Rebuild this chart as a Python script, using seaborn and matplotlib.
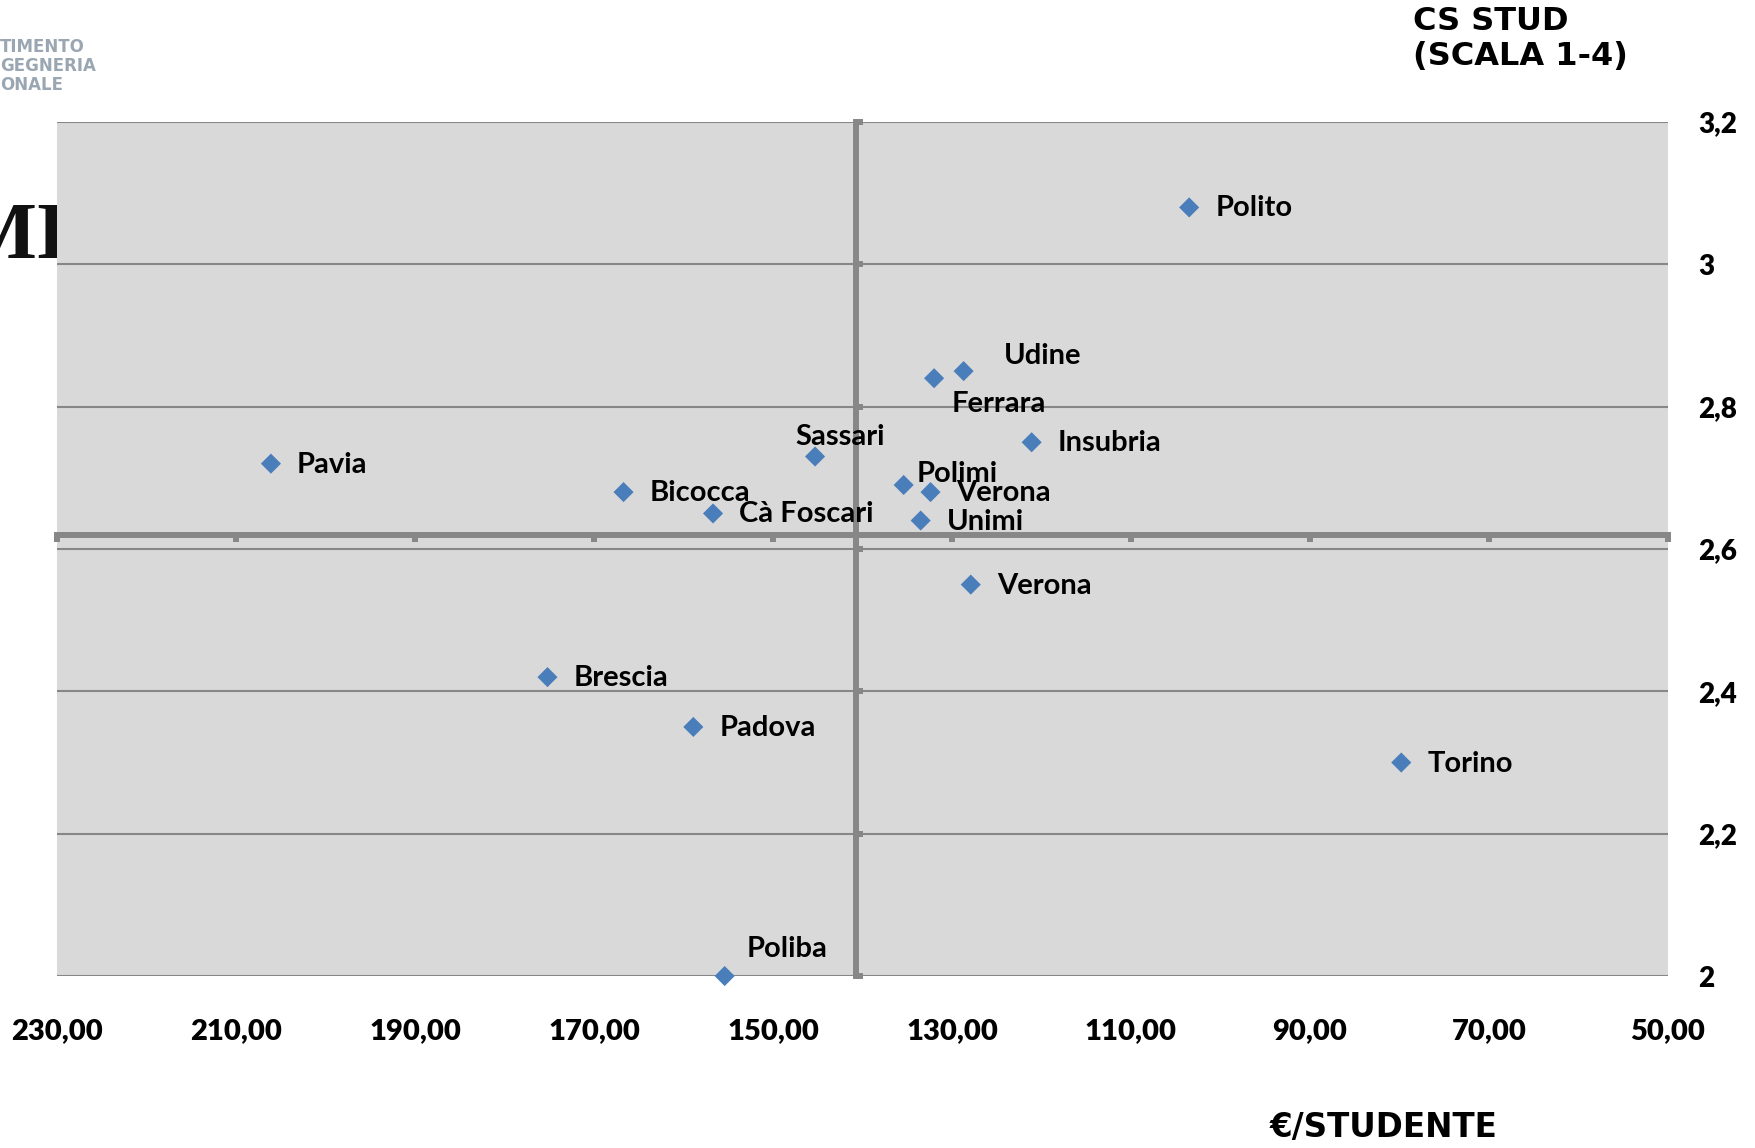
import matplotlib
matplotlib.use("Agg")
import matplotlib.pyplot as plt
import seaborn as sns
import pandas as pd

# data
atenei = ['Polito', 'Udine', 'Ferrara', 'Insubria', 'Sassari', 'Pavia', 'Bicocca',
          'Polimi', 'Verona', 'Cà Foscari', 'Unimi', 'Verona', 'Brescia', 'Padova',
          'Torino', 'Poliba']
euro_studente = [103.5, 128.7, 132.0, 121.1, 145.3, 206.1, 166.7,
                 135.4, 132.4, 156.7, 133.5, 127.9, 175.2, 158.9,
                 79.8, 155.4]
cs_stud = [3.08, 2.85, 2.84, 2.75, 2.73, 2.72, 2.68,
           2.69, 2.68, 2.65, 2.64, 2.55, 2.42, 2.35,
           2.30, 2.00]

x_ticks = [230, 210, 190, 170, 150, 130, 110, 90, 70, 50]
x_tick_labels = ['230,00', '210,00', '190,00', '170,00', '150,00',
                 '130,00', '110,00', '90,00', '70,00', '50,00']
y_ticks = [2.0, 2.2, 2.4, 2.6, 2.8, 3.0, 3.2]
y_tick_labels = ['2', '2,2', '2,4', '2,6', '2,8', '3', '3,2']

# where the two axes cross (Excel style)
cross_x = 140.7
cross_y = 2.62

# label placement (pixels from the marker), same order as atenei
label_offsets = [(26, -1), (40, 15), (18, -26), (26, -1), (-20, 20), (26, -1), (26, -1),
                 (13, 11), (26, -1), (26, -1), (26, -1), (26, -1), (26, -1), (26, -1),
                 (26, -1), (22, 27)]

df = pd.DataFrame({'ateneo': atenei, 'euro': euro_studente, 'cs': cs_stud})

plt.rcParams['font.family'] = ['Lato', 'DejaVu Sans']
plt.rcParams['font.weight'] = 'bold'

grid_col = '#878787'
fig = plt.figure(figsize=(17.55, 11.48), dpi=100)
ax = fig.add_axes([0.0325, 0.1498, 0.9179, 0.7439])
ax.set_facecolor('#d9d9d9')

sns.scatterplot(data=df, x='euro', y='cs', marker='D', s=105, color='#4a7ebb',
                edgecolor='none', ax=ax, zorder=4, clip_on=False)

ax.set_xlim(230, 50)
ax.set_ylim(2.0, 3.2)
ax.set_xticks(x_ticks)
ax.set_yticks(y_ticks)
ax.set_xlabel('')
ax.set_ylabel('')

for side in ['top', 'right']:
    ax.spines[side].set_visible(False)
ax.spines['left'].set_position(('data', cross_x))
ax.spines['bottom'].set_position(('data', cross_y))
for side in ['left', 'bottom']:
    ax.spines[side].set_color(grid_col)
    ax.spines[side].set_linewidth(4.3)
    ax.spines[side].set_zorder(3)
ax.tick_params(axis='x', direction='out', length=5, width=4.3, color=grid_col,
               labelbottom=False)
ax.tick_params(axis='y', direction='in', length=5, width=4.3, color=grid_col,
               labelleft=False)
ax.grid(axis='y', color=grid_col, linewidth=1.5)
ax.grid(axis='x', visible=False)
ax.set_axisbelow(True)

# tick labels live at the bottom and on the right, away from the crossing axes
secx = ax.secondary_xaxis('bottom')
secx.set_xticks(x_ticks, labels=x_tick_labels, fontweight='heavy', fontsize=21)
secx.tick_params(length=0, pad=30)
secx.spines['bottom'].set_visible(False)

secy = ax.secondary_yaxis('right')
secy.set_yticks(y_ticks, labels=y_tick_labels, fontweight='heavy', fontsize=20)
secy.tick_params(length=0, pad=22)
secy.spines['right'].set_visible(False)

for name, xv, yv, off in zip(atenei, euro_studente, cs_stud, label_offsets):
    ax.annotate(name, (xv, yv), xytext=off, textcoords='offset pixels',
                ha='left', va='center', fontweight='bold',
                fontsize=21, color='black', zorder=5, annotation_clip=False)

fig.text(1413 / 1755, 1 - 6 / 1148, 'CS STUD\n(SCALA 1-4)', ha='left', va='top',
         family='DejaVu Sans', fontweight='bold', fontsize=23, linespacing=1.15)
fig.text(1270 / 1755, 1 - 1128 / 1148, '€/STUDENTE', ha='left', va='center',
         family='DejaVu Sans', fontweight='bold', fontsize=23.5)

# remains of the logo in the top-left corner, partly hidden by the plot
logo_col = '#9aa7b3'
for i, line in enumerate(['TIMENTO', 'GEGNERIA', 'ONALE']):
    fig.text(0.0, 1 - (47 + 19 * i) / 1148, line, ha='left', va='center',
             family='DejaVu Sans', fontsize=12, fontweight='bold', color=logo_col,
             zorder=-1)
fig.text(-0.0225, 1 - 238 / 1148, 'MII', ha='left', va='center', fontsize=58,
         family='Liberation Serif', fontweight='bold', color='#111111', zorder=-1)

fig.savefig('out.png', dpi=100)
plt.close(fig)
